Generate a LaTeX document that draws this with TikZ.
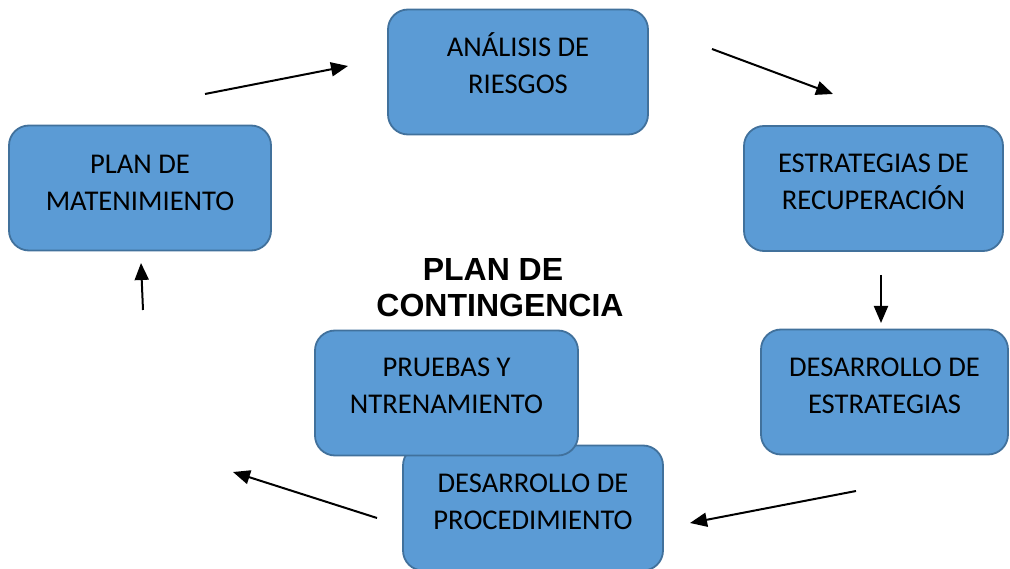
\documentclass[tikz,border=0pt]{standalone}
\usepackage{fontspec}
\setmainfont{Carlito}
\newfontfamily\titlefont{Liberation Sans}
\usepackage{xcolor}
\usetikzlibrary{positioning,arrows.meta}
\definecolor{stageblue}{HTML}{5B9BD5}
\definecolor{stageedge}{HTML}{41719C}
\tikzset{
  stage/.style={rectangle, rounded corners=20pt, draw=stageedge, fill=stageblue,
                line width=1.8pt, inner sep=0pt, minimum width=#1, minimum height=125pt},
  stagetxt/.style={align=center, inner sep=0pt, font=\fontsize{28.6}{37}\selectfont},
  ttl/.style={align=center, inner sep=0pt, font=\titlefont\bfseries\fontsize{32}{36}\selectfont},
  ar/.style={-{Triangle[length=17pt,width=14pt]}, line width=2pt, draw=black},
}

\begin{document}
\begin{tikzpicture}[x=1pt, y=-1pt]
  \useasboundingbox (0,0) rectangle (1010,569);
  \fill[white] (0,0) rectangle (1010,569);

  % stages of the cycle
  \node[stage=260pt] (ana) at (518,72) {};
  \node[stage=259pt] (rec) at (873.5,188.5) {};
  \node[stage=247pt] (est) at (884.5,392) {};
  \node[stage=260pt] (proc) at (533,508) {};
  \node[stage=263pt] (pru) at (446.5,393) {};
  \node[stage=262pt] (mant) at (140,188) {};

  \node[stagetxt] (ana-t) at ([yshift=8.5pt]ana.center) {ANÁLISIS DE\\RIESGOS};
  \node[stagetxt] (rec-t) at ([yshift=6.5pt]rec.center) {ESTRATEGIAS DE\\RECUPERACIÓN};
  \node[stagetxt] (est-t) at ([yshift=6.5pt]est.center) {DESARROLLO DE\\ESTRATEGIAS};
  \node[stagetxt] (proc-t) at ([yshift=6.5pt]proc.center) {DESARROLLO DE\\PROCEDIMIENTO};
  \node[stagetxt] (pru-t) at ([yshift=7pt]pru.center) {PRUEBAS Y\\NTRENAMIENTO};
  \node[stagetxt] (mant-t) at ([yshift=5.5pt]mant.center) {PLAN DE\\MATENIMIENTO};

  \node[ttl] (title) at (500,288) {PLAN DE\hspace*{14pt}\\CONTINGENCIA};

  % arrow ends
  \coordinate (m-a1) at (205,94);   \coordinate (m-a2) at (348,66);
  \coordinate (a-r1) at (712,49);   \coordinate (a-r2) at (833,94);
  \coordinate (r-e1) at (881,275);  \coordinate (r-e2) at (881,323);
  \coordinate (e-p1) at (856,491);  \coordinate (e-p2) at (690,523);
  \coordinate (p-q1) at (377,518);  \coordinate (p-q2) at (233,472);
  \coordinate (q-m1) at (143,310);  \coordinate (q-m2) at (141,263);

  \draw[ar] (m-a1) -- (m-a2);
  \draw[ar] (a-r1) -- (a-r2);
  \draw[ar] (r-e1) -- (r-e2);
  \draw[ar] (e-p1) -- (e-p2);
  \draw[ar] (p-q1) -- (p-q2);
  \draw[ar] (q-m1) -- (q-m2);
\end{tikzpicture}
\end{document}
